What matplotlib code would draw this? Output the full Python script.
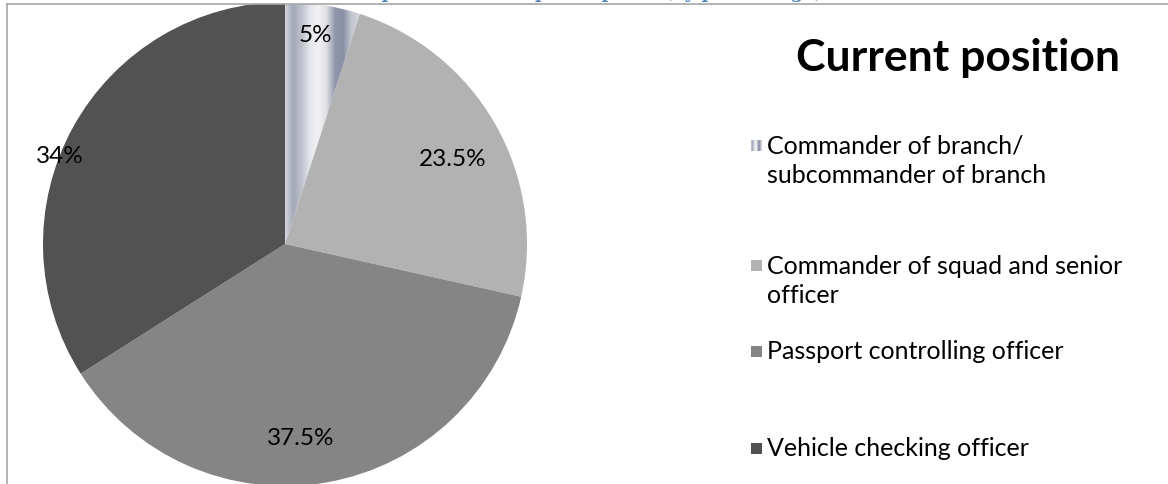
import matplotlib
matplotlib.use("Agg")
import matplotlib.pyplot as plt
import numpy as np
from matplotlib.colors import LinearSegmentedColormap
from matplotlib.lines import Line2D
from matplotlib.patches import Rectangle

plt.rcParams["font.family"] = ["Lato", "DejaVu Sans"]

# survey shares by current position
positions = [
    "Commander of branch/\nsubcommander of branch",
    "Commander of squad and senior\nofficer",
    "Passport controlling officer",
    "Vehicle checking officer",
]
shares = [5, 23.5, 37.5, 34]
share_labels = ["5%", "23.5%", "37.5%", "34%"]
legend_title = "Current position"
page_heading = "Current position of the participants (by percentage)"

colors = [None, "#b2b2b2", "#858585", "#525252"]
metal_stops = ["#d2d4dc", "#a3a7b8", "#bfc2cd", "#e6e7eb", "#f2f2f4",
               "#dcdde3", "#9197ab", "#8a90a5", "#c4c7d1", "#d3d5dc"]

W, H = 1168, 485
fig = plt.figure(figsize=(W / 100, H / 100), dpi=100)


def fx(px):
    return px / W


def fy(py):
    return 1 - py / H


# pie centre and radius in pixels
cx, cy, R = 285, 245, 242
ax = fig.add_axes([fx(cx - R), 0, 2 * R / W, (H - 5) / H])
wedges, _ = ax.pie(shares, colors=["#cccccc" if c is None else c for c in colors],
                   startangle=90, counterclock=False, radius=1,
                   wedgeprops=dict(linewidth=0))
ax.set_aspect("auto")
ax.set_xlim(-1, 1)
ax.set_ylim(-(H - cy) / R, (cy - 5) / R)
ax.axis("off")

# metallic fill for the first slice
metal = LinearSegmentedColormap.from_list("metal", metal_stops)
w0 = wedges[0]
grad = np.linspace(0, 1, 256).reshape(1, -1)
t1 = np.deg2rad(90 - 360 * shares[0] / 100)
img = ax.imshow(grad, cmap=metal, aspect="auto",
                extent=[0, np.cos(t1) * 1.0, 0, 1.0], zorder=w0.get_zorder() + 0.1)
img.set_clip_path(w0)
w0.set_facecolor("none")

# slice labels
label_xy = [(0.124, 0.864), (0.694, 0.355), (0.066, -0.798), (-0.930, 0.364)]
for txt, (x, y) in zip(share_labels, label_xy):
    ax.text(x, y, txt, ha="center", va="center", fontsize=17.5, color="#000000", zorder=5)

# legend
fig.text(fx(958), fy(58), legend_title, ha="center", va="center",
         fontsize=32, fontweight="bold")
entry_y = [161, 281, 352, 449]
for i, (lab, y) in enumerate(zip(positions, entry_y)):
    n = lab.count("\n")
    top = y - n * 14.5
    if colors[i] is None:
        cax = fig.add_axes([fx(751), fy(top + 5.5), 11 / W, 11 / H])
        cax.imshow(grad, cmap=metal, aspect="auto")
        cax.axis("off")
    else:
        fig.patches.append(Rectangle((fx(751), fy(top + 5.5)), 11 / W, 11 / H,
                                     transform=fig.transFigure, facecolor=colors[i],
                                     edgecolor="none"))
    fig.text(fx(767), fy(y), lab, ha="left", va="center", fontsize=18,
             linespacing=1.33)

# page frame and heading above it
fig.patches.append(Rectangle((0, fy(5)), 1, 5 / H, transform=fig.transFigure,
                             facecolor="white", edgecolor="none", zorder=10))
fig.text(fx(560), fy(-2), page_heading, ha="center", va="baseline", fontsize=13,
         fontweight="bold", color="#4f81bd", family=["DejaVu Serif"], zorder=11)
fig.add_artist(Line2D([fx(7), 1], [fy(5), fy(5)], color="#a6a6a6", lw=1.2, zorder=12))
fig.add_artist(Line2D([fx(7), fx(7)], [fy(5), 0], color="#a6a6a6", lw=1.2, zorder=12))

fig.savefig("out.png", dpi=100)
